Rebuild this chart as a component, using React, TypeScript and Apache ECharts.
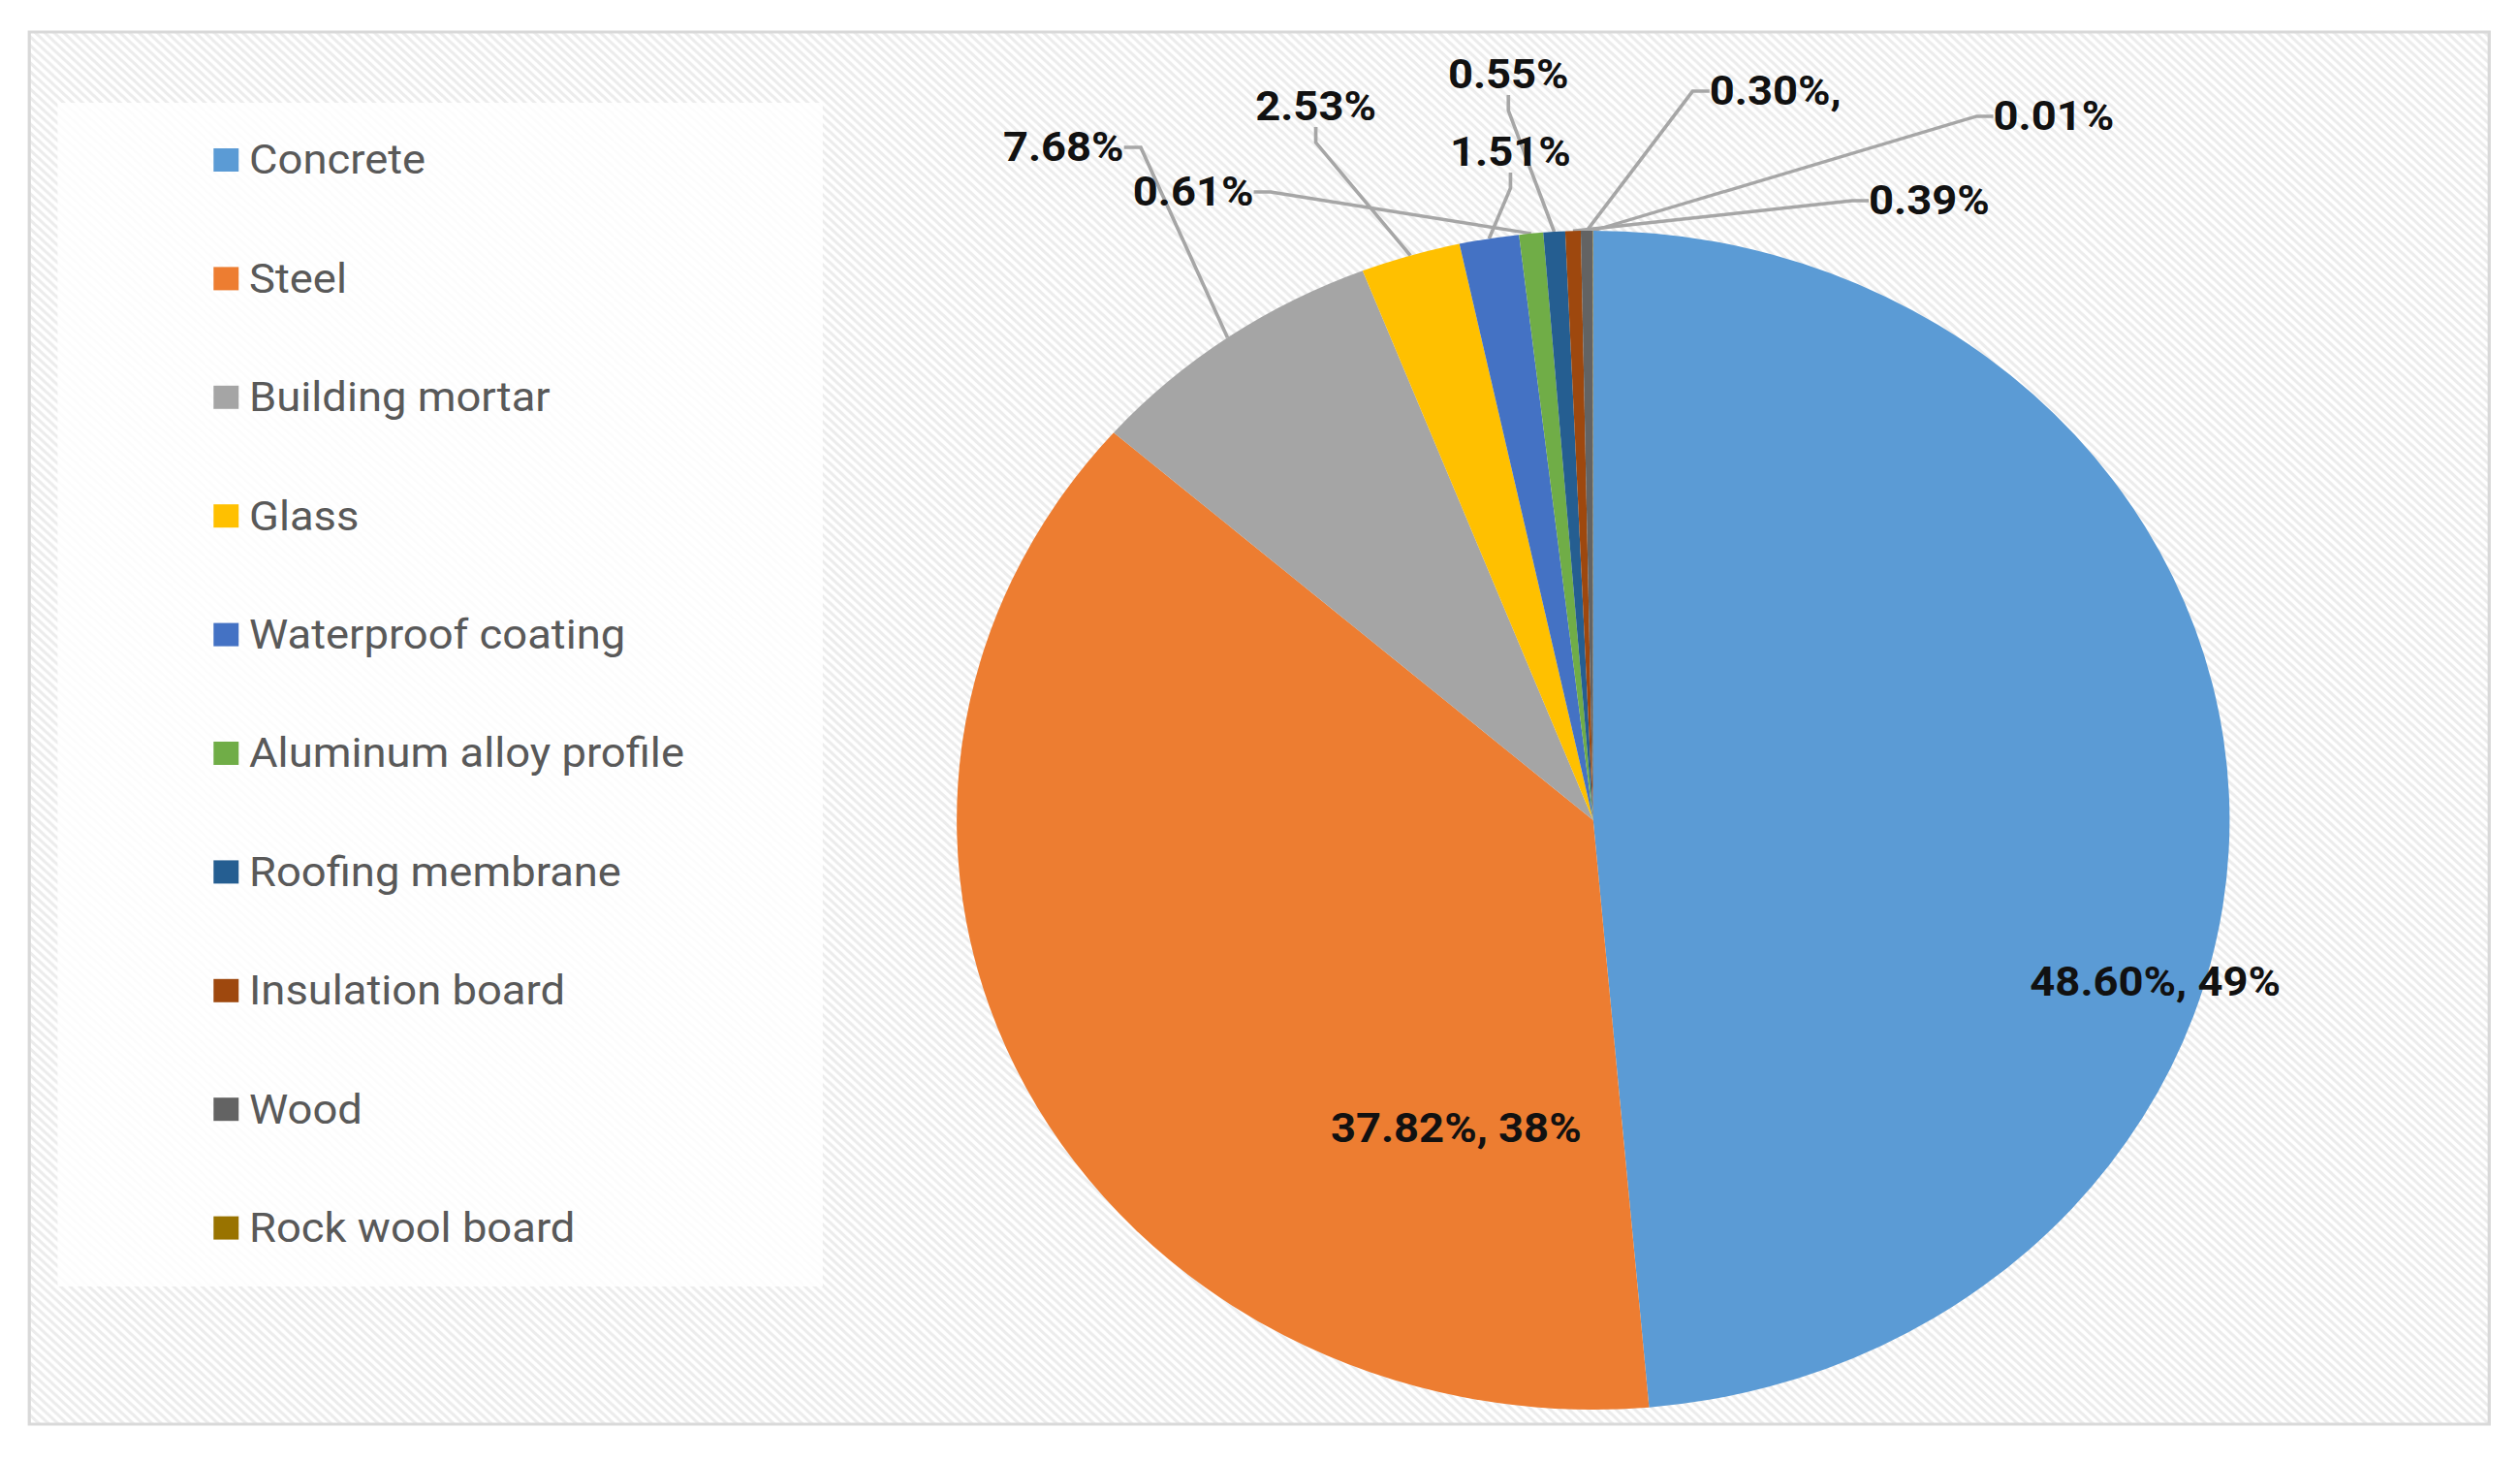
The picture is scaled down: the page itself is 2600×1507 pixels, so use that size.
import React, { useEffect, useRef } from 'react';
import * as echarts from 'echarts';

const materials = [
  'Concrete',
  'Steel',
  'Building mortar',
  'Glass',
  'Waterproof coating',
  'Aluminum alloy profile',
  'Roofing membrane',
  'Insulation board',
  'Wood',
  'Rock wool board',
];
const shares = [48.6, 37.82, 7.68, 2.53, 1.51, 0.61, 0.55, 0.39, 0.3, 0.01];
const labelTexts = [
  '48.60%, 49%',
  '37.82%, 38%',
  '7.68%',
  '2.53%',
  '1.51%',
  '0.61%',
  '0.55%',
  '0.39%',
  '0.30%,',
  '0.01%',
];
const colors = [
  '#5B9BD5',
  '#ED7D31',
  '#A5A5A5',
  '#FFC000',
  '#4472C4',
  '#70AD47',
  '#255E91',
  '#9E480E',
  '#636363',
  '#997300',
];

// the original picture is stretched sideways, so the chart is drawn narrower and scaled
const STRETCH = 1.08;
const W = Math.round(2600 / STRETCH);
const H = 1507;
const CX = 1522;
const CY = 846;
const R = 608;

// where each label sits, relative to the pie centre
const labelOffsets: [number, number][] = [
  [537, 167],
  [-131, 318],
  [-506, -694],
  [-265, -736],
  [-79, -689],
  [-382, -648],
  [-81, -769],
  [321, -639],
  [174, -752],
  [440, -726],
];

const stripeTile =
  'data:image/svg+xml;charset=utf-8,' +
  encodeURIComponent(
    "<svg xmlns='http://www.w3.org/2000/svg' width='9' height='9'>" +
      "<rect width='9' height='9' fill='#ffffff'/>" +
      "<path d='M-2,-2 L11,11 M-2,7 L2,11 M7,-2 L11,2' stroke='#ececec' stroke-width='3'/>" +
      '</svg>'
  );

const App: React.FC = () => {
  const chartRef = useRef<HTMLDivElement>(null);

  useEffect(() => {
    if (!chartRef.current) return;
    const chart = echarts.init(chartRef.current, null, { renderer: 'svg' });

    chart.setOption({
      animation: false,
      backgroundColor: '#ffffff',
      color: colors,
      graphic: [
        {
          type: 'rect',
          z: -10,
          shape: { x: 28, y: 33, width: 2350, height: 1436 },
          style: {
            fill: { image: stripeTile, repeat: 'repeat', imageWidth: 9, imageHeight: 9 },
            stroke: '#d9d9d9',
            lineWidth: 3,
          },
        },
        {
          type: 'rect',
          z: -9,
          shape: { x: 55, y: 106, width: 731, height: 1221 },
          style: { fill: 'rgba(255,255,255,0.85)' },
        },
      ],
      legend: {
        orient: 'vertical',
        left: 199,
        top: 136,
        itemWidth: 24,
        itemHeight: 24,
        itemGap: 74.4,
        icon: 'rect',
        selectedMode: false,
        data: materials,
        textStyle: {
          fontFamily: 'Roboto',
          fontSize: 42,
          lineHeight: 48,
          color: '#595959',
          padding: [0, 0, 0, 5],
        },
      },
      series: [
        {
          type: 'pie',
          center: [CX, CY],
          radius: R,
          startAngle: 90,
          clockwise: true,
          avoidLabelOverlap: false,
          itemStyle: { borderWidth: 0 },
          label: {
            show: true,
            position: 'outside',
            fontFamily: 'Roboto',
            fontWeight: 'bold',
            fontSize: 42,
            color: '#111111',
            formatter: (p: any) => labelTexts[p.dataIndex],
          },
          labelLine: {
            show: true,
            length: 10,
            length2: 16,
            lineStyle: { color: '#a6a6a6', width: 3.4 },
          },
          labelLayout: (p: any) => {
            const [dx, dy] = labelOffsets[p.dataIndex];
            return { x: CX + dx, y: CY + dy, align: 'center', verticalAlign: 'middle' };
          },
          emphasis: { disabled: true },
          data: materials.map((name, i) => ({
            name,
            value: shares[i],
            ...(i < 2 ? { labelLine: { show: false } } : {}),
          })),
        },
      ],
    });

    return () => {
      chart.dispose();
    };
  }, []);

  return (
    <div
      style={{
        position: 'absolute',
        left: 0,
        top: 0,
        width: 2600,
        height: 1507,
        overflow: 'hidden',
        background: '#ffffff',
      }}
    >
      <div
        ref={chartRef}
        style={{
          width: W,
          height: H,
          transform: `scaleX(${STRETCH})`,
          transformOrigin: '0 0',
        }}
      />
    </div>
  );
};

export default App;
